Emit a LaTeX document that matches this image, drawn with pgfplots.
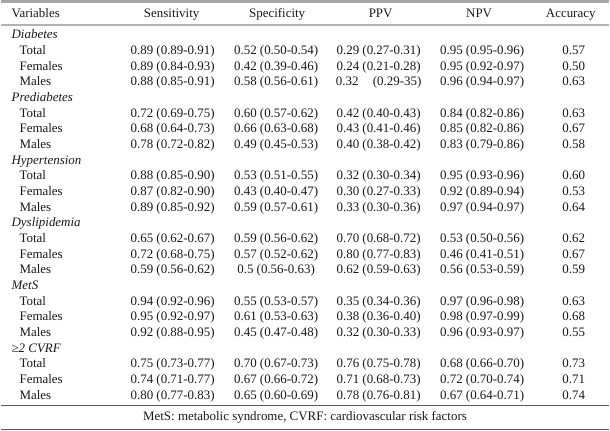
\documentclass[border=0pt]{standalone}
\usepackage{pgfplots}
\pgfplotsset{compat=1.18}
\usepackage{fontspec}
\setmainfont{Liberation Serif}
\definecolor{txt}{HTML}{1A1718}
\definecolor{rulegrey}{HTML}{A6A6A6}
\definecolor{ruledark}{HTML}{5A5A5A}
\tikzset{cell/.style={font=\fontsize{13}{15}\selectfont, text=txt, inner sep=0pt}}
\newcommand{\grp}[2]{\node[cell,anchor=mid west] at (axis cs:10,#1) {\itshape #2};}
\newcommand{\lab}[2]{\node[cell,anchor=mid west] at (axis cs:18,#1) {#2};}
\newcommand{\vals}[6]{%
  \node[cell,anchor=mid] at (axis cs:172,#1) {#2};
  \node[cell,anchor=mid] at (axis cs:276,#1) {#3};
  \node[cell,anchor=mid] at (axis cs:379,#1) {#4};
  \node[cell,anchor=mid] at (axis cs:483,#1) {#5};
  \node[cell,anchor=mid] at (axis cs:575,#1) {#6};}
\begin{document}
\fontsize{13}{15}\selectfont
\begin{tikzpicture}
\begin{axis}[
  width=610pt, height=433pt, scale only axis,
  xmin=0, xmax=610, ymin=0, ymax=433, y dir=reverse,
  hide axis, clip=false,
]
% frame (invisible) and rules
\addplot[draw=none] coordinates {(0,0) (610,433)};
\addplot[rulegrey, line width=3pt] coordinates {(0,1.5) (610,1.5)};
\addplot[rulegrey!85, line width=2pt] coordinates {(0,25.5) (610,25.5)};
\addplot[ruledark, line width=1pt] coordinates {(0,407) (610,407)};
\addplot[ruledark, line width=1pt] coordinates {(0,432) (610,432)};
% header
\node[cell,anchor=mid west] at (axis cs:10,15) {Variables};
\node[cell,anchor=mid] at (axis cs:171,15) {Sensitivity};
\node[cell,anchor=mid] at (axis cs:277,15) {Specificity};
\node[cell,anchor=mid] at (axis cs:381,15) {PPV};
\node[cell,anchor=mid] at (axis cs:480,15) {NPV};
\node[cell,anchor=mid] at (axis cs:572,15) {Accuracy};
% Diabetes
\grp{36}{Diabetes}
\lab{51.74}{Total}\vals{51.74}{0.89 (0.89-0.91)}{0.52 (0.50-0.54)}{0.29 (0.27-0.31)}{0.95 (0.95-0.96)}{0.57}
\lab{67.48}{Females}\vals{67.48}{0.89 (0.84-0.93)}{0.42 (0.39-0.46)}{0.24 (0.21-0.28)}{0.95 (0.92-0.97)}{0.50}
\lab{83.22}{Males}\vals{83.22}{0.88 (0.85-0.91)}{0.58 (0.56-0.61)}{0.32\hspace{1.1em}(0.29-35)}{0.96 (0.94-0.97)}{0.63}
% Prediabetes
\grp{98.96}{Prediabetes}
\lab{114.7}{Total}\vals{114.7}{0.72 (0.69-0.75)}{0.60 (0.57-0.62)}{0.42 (0.40-0.43)}{0.84 (0.82-0.86)}{0.63}
\lab{130.44}{Females}\vals{130.44}{0.68 (0.64-0.73)}{0.66 (0.63-0.68)}{0.43 (0.41-0.46)}{0.85 (0.82-0.86)}{0.67}
\lab{146.18}{Males}\vals{146.18}{0.78 (0.72-0.82)}{0.49 (0.45-0.53)}{0.40 (0.38-0.42)}{0.83 (0.79-0.86)}{0.58}
% Hypertension
\grp{161.92}{Hypertension}
\lab{177.66}{Total}\vals{177.66}{0.88 (0.85-0.90)}{0.53 (0.51-0.55)}{0.32 (0.30-0.34)}{0.95 (0.93-0.96)}{0.60}
\lab{193.4}{Females}\vals{193.4}{0.87 (0.82-0.90)}{0.43 (0.40-0.47)}{0.30 (0.27-0.33)}{0.92 (0.89-0.94)}{0.53}
\lab{209.14}{Males}\vals{209.14}{0.89 (0.85-0.92)}{0.59 (0.57-0.61)}{0.33 (0.30-0.36)}{0.97 (0.94-0.97)}{0.64}
% Dyslipidemia
\grp{224.88}{Dyslipidemia}
\lab{240.62}{Total}\vals{240.62}{0.65 (0.62-0.67)}{0.59 (0.56-0.62)}{0.70 (0.68-0.72)}{0.53 (0.50-0.56)}{0.62}
\lab{256.36}{Females}\vals{256.36}{0.72 (0.68-0.75)}{0.57 (0.52-0.62)}{0.80 (0.77-0.83)}{0.46 (0.41-0.51)}{0.67}
\lab{272.1}{Males}\vals{272.1}{0.59 (0.56-0.62)}{0.5 (0.56-0.63)}{0.62 (0.59-0.63)}{0.56 (0.53-0.59)}{0.59}
% MetS
\grp{287.84}{MetS}
\lab{303.58}{Total}\vals{303.58}{0.94 (0.92-0.96)}{0.55 (0.53-0.57)}{0.35 (0.34-0.36)}{0.97 (0.96-0.98)}{0.63}
\lab{319.32}{Females}\vals{319.32}{0.95 (0.92-0.97)}{0.61 (0.53-0.63)}{0.38 (0.36-0.40)}{0.98 (0.97-0.99)}{0.68}
\lab{335.06}{Males}\vals{335.06}{0.92 (0.88-0.95)}{0.45 (0.47-0.48)}{0.32 (0.30-0.33)}{0.96 (0.93-0.97)}{0.55}
% >=2 CVRF
\grp{350.8}{≥2 CVRF}
\lab{366.54}{Total}\vals{366.54}{0.75 (0.73-0.77)}{0.70 (0.67-0.73)}{0.76 (0.75-0.78)}{0.68 (0.66-0.70)}{0.73}
\lab{382.28}{Females}\vals{382.28}{0.74 (0.71-0.77)}{0.67 (0.66-0.72)}{0.71 (0.68-0.73)}{0.72 (0.70-0.74)}{0.71}
\lab{398.02}{Males}\vals{398.02}{0.80 (0.77-0.83)}{0.65 (0.60-0.69)}{0.78 (0.76-0.81)}{0.67 (0.64-0.71)}{0.74}
% footnote
\node[cell,anchor=mid] at (axis cs:305,420) {MetS: metabolic syndrome, CVRF: cardiovascular risk factors};
\end{axis}
\end{tikzpicture}
\end{document}
